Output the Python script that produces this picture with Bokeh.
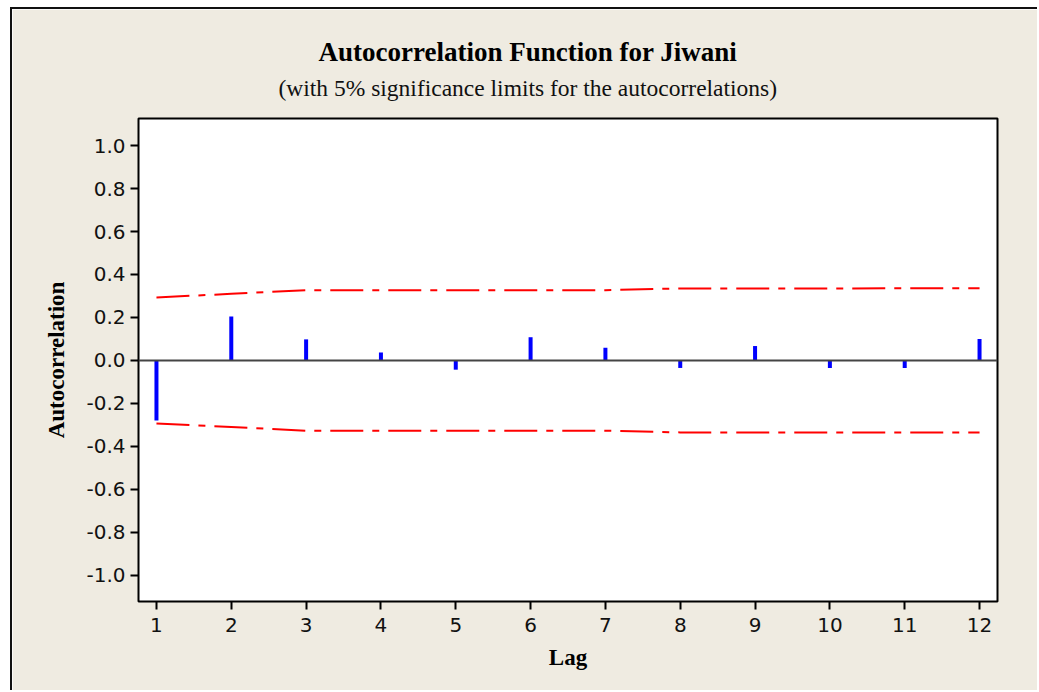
from bokeh.plotting import figure
from bokeh.models import Range1d, FixedTicker, ColumnDataSource, Span, Title, CustomJSTickFormatter
from bokeh.embed import file_html
from bokeh.resources import INLINE

lags = [1, 2, 3, 4, 5, 6, 7, 8, 9, 10, 11, 12]
acf = [-0.28, 0.205, 0.098, 0.037, -0.043, 0.108, 0.059, -0.035, 0.067, -0.035, -0.035, 0.10]
upper_limit = [0.293, 0.31, 0.327, 0.327, 0.327, 0.327, 0.327, 0.335, 0.335, 0.335, 0.336, 0.336]
lower_limit = [-u for u in upper_limit]
y_ticks = [-1.0, -0.8, -0.6, -0.4, -0.2, 0.0, 0.2, 0.4, 0.6, 0.8, 1.0]
title_text = "Autocorrelation Function for Jiwani"
subtitle_text = "(with 5% significance limits for the autocorrelations)"

BG = "#EFEBE1"

src = ColumnDataSource(dict(lag=lags, acf=acf, zero=[0] * len(lags),
                            up=upper_limit, lo=lower_limit))

p = figure(width=1027, height=683, output_backend="svg", toolbar_location=None,
           x_range=Range1d(0.76, 12.24), y_range=Range1d(-1.122, 1.126),
           min_border_left=126, min_border_right=42, min_border_top=109,
           min_border_bottom=91)
p.styles = {"margin-left": "10px", "margin-top": "7px",
            "border-left": "2px solid #111111", "border-top": "2px solid #111111"}

p.background_fill_color = "white"
p.border_fill_color = BG
p.outline_line_color = "black"
p.outline_line_width = 2
p.grid.visible = False

p.xaxis.ticker = FixedTicker(ticks=lags)
p.yaxis.ticker = FixedTicker(ticks=y_ticks)
p.yaxis.formatter = CustomJSTickFormatter(code="return tick.toFixed(1);")

for ax in (p.xaxis[0], p.yaxis[0]):
    ax.axis_line_color = None
    ax.major_tick_line_color = "black"
    ax.major_tick_line_width = 2
    ax.major_tick_out = 8
    ax.major_tick_in = 0
    ax.minor_tick_line_color = None
    ax.major_label_text_font = "DejaVu Sans"
    ax.major_label_text_font_size = "20px"
    ax.major_label_text_color = "#111111"
    ax.axis_label_text_font = "Liberation Serif"
    ax.axis_label_text_font_style = "bold"
    ax.axis_label_text_font_size = "23px"
    ax.axis_label_text_color = "black"

p.xaxis.axis_label = "Lag"
p.yaxis.axis_label = "Autocorrelation"
p.xaxis.major_label_standoff = 8
p.yaxis.major_label_standoff = 5
p.xaxis.axis_label_standoff = 10
p.yaxis.axis_label_standoff = 14

p.add_layout(Span(location=0, dimension="width", line_color="#444444", line_width=2))

p.line("lag", "up", source=src, line_color="#FF0000", line_width=2, line_dash="33 9 7 9")
p.line("lag", "lo", source=src, line_color="#FF0000", line_width=2, line_dash="33 9 7 9")
p.segment(x0="lag", y0="zero", x1="lag", y1="acf", source=src,
          line_color="#0000FF", line_width=4, line_cap="butt")

p.add_layout(Title(text=subtitle_text, text_font="Liberation Serif", text_font_size="23.5px",
                   text_font_style="normal", text_color="#111111", align="left",
                   offset=140, standoff=35), "above")
p.add_layout(Title(text=title_text, text_font="Liberation Serif", text_font_size="27px",
                   text_font_style="bold", text_color="black", align="left",
                   offset=180, standoff=-22), "above")

open("out.html", "w").write(file_html(p, INLINE))
